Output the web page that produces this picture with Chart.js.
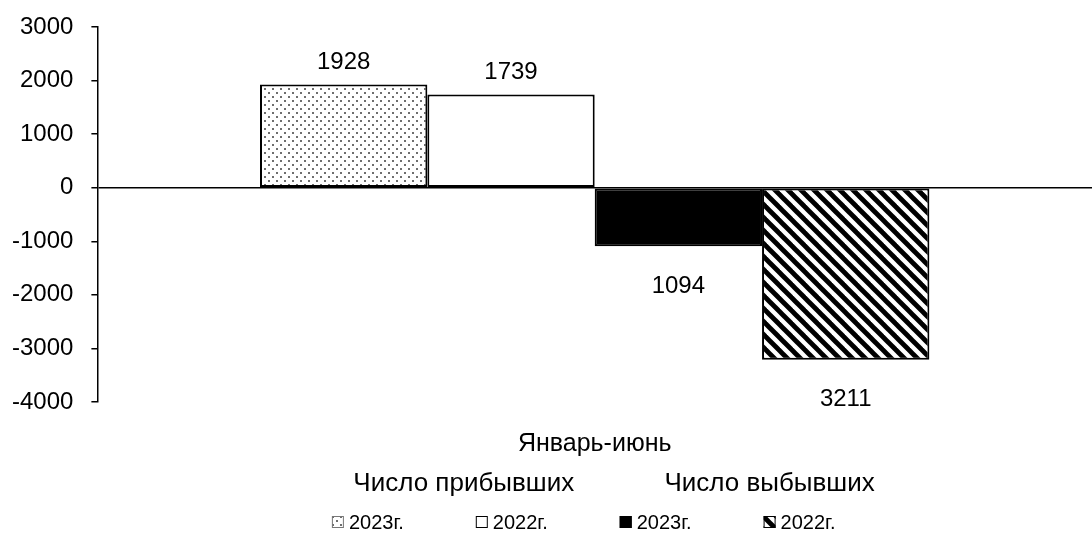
<!DOCTYPE html>
<html>
<head>
<meta charset="utf-8">
<script src="https://cdn.jsdelivr.net/npm/chart.js@4/dist/chart.umd.min.js"></script>
<style>
  html, body { margin: 0; padding: 0; background: #fff; }
  #box { width: 1092px; height: 533px; }
</style>
</head>
<body>
<div id="box"><canvas id="myChart"></canvas></div>
<script>
// Chart data
const categories = ['Январь-июнь'];
const groupNames = ['Число прибывших', 'Число выбывших'];
const seriesNames = ['2023г.', '2022г.', '2023г.', '2022г.'];
const arrived2023 = [1928];
const arrived2022 = [1739];
const departed2023 = [-1094];
const departed2022 = [-3211];
const yTicks = [-4000, -3000, -2000, -1000, 0, 1000, 2000, 3000];

const FONT = "'Liberation Sans', Arial, sans-serif";

// Fill patterns like the Excel ones
function dotPattern() {
    const c = document.createElement('canvas');
    c.width = 8; c.height = 8;
    const g = c.getContext('2d');
    g.fillStyle = '#fff';
    g.fillRect(0, 0, 8, 8);
    g.fillStyle = '#6e6e6e';
    g.fillRect(0, 0, 2, 2);
    g.fillRect(4, 4, 2, 2);
    return g.createPattern(c, 'repeat');
}

function hatchPattern() {
    const s = 13;
    const c = document.createElement('canvas');
    c.width = s; c.height = s;
    const g = c.getContext('2d');
    g.fillStyle = '#fff';
    g.fillRect(0, 0, s, s);
    g.strokeStyle = '#000';
    g.lineWidth = 4.8;
    [-s, 0, s].forEach(off => {
        g.beginPath();
        g.moveTo(-2, off - 2);
        g.lineTo(s + 2, off + s + 2);
        g.stroke();
    });
    return g.createPattern(c, 'repeat');
}

const fills = [dotPattern(), '#fff', '#000', hatchPattern()];
const seriesData = [arrived2023, arrived2022, departed2023, departed2022];

// Value labels at the end of each bar (absolute numbers as in source)
const valueLabels = {
    id: 'valueLabels',
    afterDatasetsDraw(chart) {
        const ctx = chart.ctx;
        ctx.save();
        ctx.font = '24px ' + FONT;
        ctx.fillStyle = '#000';
        ctx.textAlign = 'center';
        ctx.textBaseline = 'middle';
        chart.data.datasets.forEach((ds, i) => {
            chart.getDatasetMeta(i).data.forEach((bar, j) => {
                const v = ds.data[j];
                const y = v >= 0 ? bar.y - 22 : bar.y + 40;
                ctx.fillText(String(Math.abs(v)), bar.x, y);
            });
        });
        ctx.restore();
    }
};

// Two-level legend: group headings over the series entries
const headingShift = [24, 42];
const groupLegend = {
    id: 'groupLegend',
    afterDraw(chart) {
        const ctx = chart.ctx;
        const area = chart.chartArea;
        ctx.save();
        ctx.font = '20px ' + FONT;
        const box = 12, gapText = 5, gapItem = 72;
        const widths = seriesNames.map(t => box + gapText + ctx.measureText(t).width);
        const total = widths.reduce((a, b) => a + b, 0) + gapItem * (widths.length - 1);
        let x = (area.left + area.right) / 2 - 11 - total / 2;
        const yItem = 522;
        const starts = [];
        ctx.textBaseline = 'middle';
        ctx.textAlign = 'left';
        seriesNames.forEach((name, i) => {
            starts.push(x);
            ctx.fillStyle = fills[i];
            ctx.fillRect(x, yItem - box / 2, box, box);
            ctx.strokeStyle = i === 0 ? '#777' : '#000';
            ctx.lineWidth = 1;
            ctx.strokeRect(x + 0.5, yItem - box / 2 + 0.5, box - 1, box - 1);
            ctx.fillStyle = '#000';
            ctx.fillText(name, x + box + gapText, yItem + 1);
            x += widths[i] + gapItem;
        });
        ctx.font = '26px ' + FONT;
        ctx.textAlign = 'center';
        groupNames.forEach((name, k) => {
            const a = starts[k * 2];
            const b = starts[k * 2 + 1] + widths[k * 2 + 1];
            ctx.fillText(name, (a + b) / 2 + headingShift[k], 484);
        });
        ctx.restore();
    }
};

function makeDataset(i) {
    return {
        label: seriesNames[i],
        data: seriesData[i],
        backgroundColor: fills[i],
        borderColor: '#000',
        borderWidth: 2,
        borderSkipped: false
    };
}

const chartElement = document.getElementById('myChart').getContext('2d');
new Chart(chartElement, {
    type: 'bar',
    data: {
        labels: categories,
        datasets: seriesNames.map((n, i) => makeDataset(i))
    },
    options: {
        responsive: true,
        maintainAspectRatio: false,
        animation: false,
        layout: { padding: { top: 27, left: -6, right: 0, bottom: 47 } },
        datasets: { bar: { categoryPercentage: 0.673, barPercentage: 1 } },
        scales: {
            x: {
                grid: { display: false, drawTicks: false },
                border: { display: false },
                ticks: { color: '#000', padding: 27, font: { family: FONT, size: 25 } }
            },
            y: {
                min: -4000,
                max: 3000,
                afterBuildTicks: axis => { axis.ticks = yTicks.map(v => ({ value: v })); },
                grid: {
                    color: c => (c.tick && c.tick.value === 0 ? '#000' : 'rgba(0,0,0,0)'),
                    lineWidth: 1.5,
                    tickColor: '#000',
                    tickLength: 6,
                    tickWidth: 1.5
                },
                border: { display: true, color: '#000', width: 1.5 },
                ticks: {
                    color: '#000',
                    padding: 18,
                    // small lineHeight keeps the top label from pushing the plot down
                    font: { family: FONT, size: 24, lineHeight: 0.6 },
                    callback: v => String(v)
                }
            }
        },
        plugins: {
            legend: { display: false },
            tooltip: { enabled: false }
        }
    },
    plugins: [valueLabels, groupLegend]
});
</script>
</body>
</html>
